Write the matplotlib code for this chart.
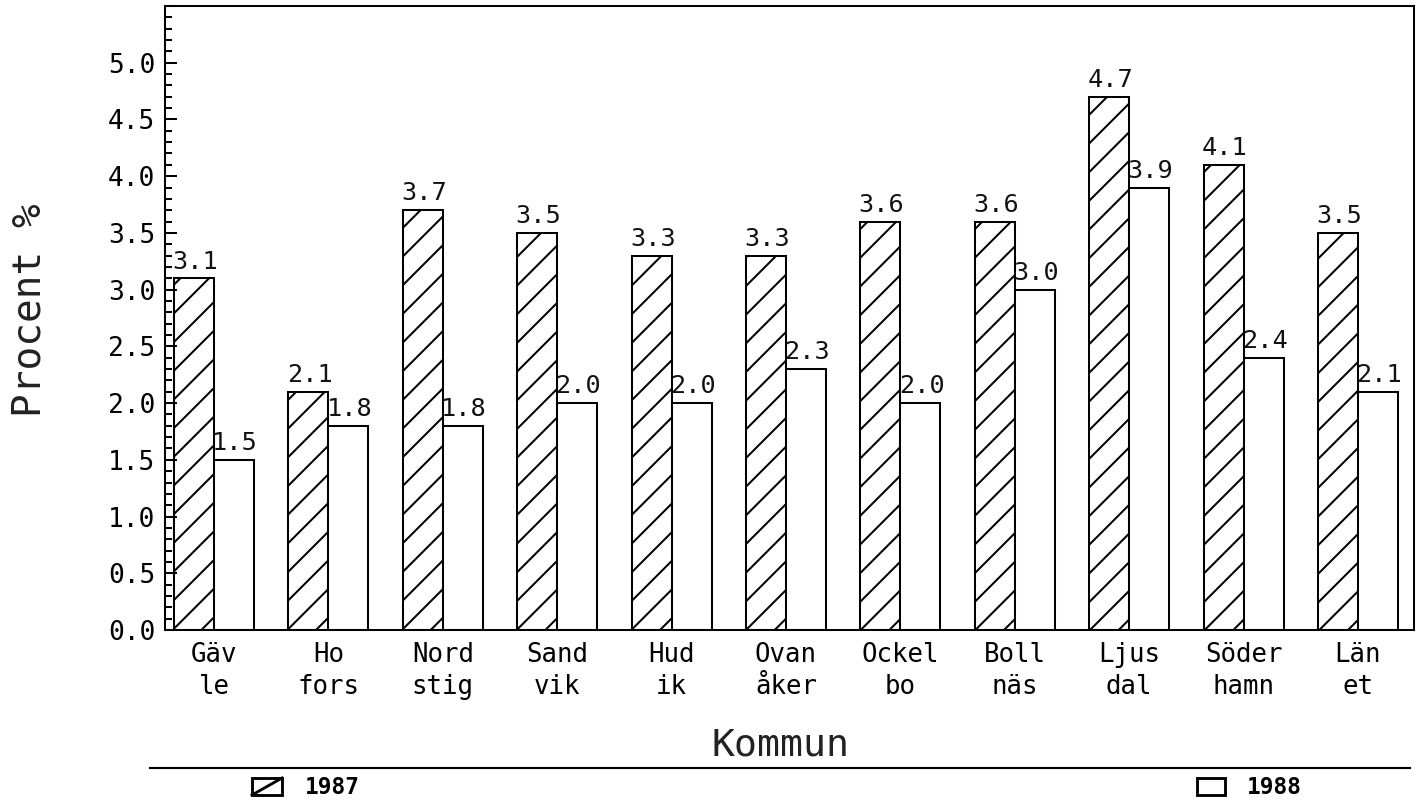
import matplotlib
matplotlib.use("Agg")
import matplotlib.pyplot as plt
from matplotlib.ticker import MultipleLocator, FormatStrFormatter
from matplotlib.patches import Rectangle
from matplotlib.lines import Line2D
import numpy as np

# ---- data ----
kommuner = ["Gäv\nle", "Ho\nfors", "Nord\nstig", "Sand\nvik", "Hud\nik", "Ovan\nåker",
            "Ockel\nbo", "Boll\nnäs", "Ljus\ndal", "Söder\nhamn", "Län\net"]
values_1987 = [3.1, 2.1, 3.7, 3.5, 3.3, 3.3, 3.6, 3.6, 4.7, 4.1, 3.5]
values_1988 = [1.5, 1.8, 1.8, 2.0, 2.0, 2.3, 2.0, 3.0, 3.9, 2.4, 2.1]
series_labels = ["1987", "1988"]
y_ticks = [0.0, 0.5, 1.0, 1.5, 2.0, 2.5, 3.0, 3.5, 4.0, 4.5, 5.0]
y_label = "Procent %"
x_label = "Kommun"

DPI = 172
W, H = 1416, 805
plt.rcParams['font.family'] = ['DejaVu Sans Mono', 'DejaVu Sans']
plt.rcParams['hatch.linewidth'] = 0.85

fig = plt.figure(figsize=(W / DPI, H / DPI), dpi=DPI)
ax = fig.add_axes([165 / W, 1 - 630 / H, (1414 - 165) / W, (630 - 6) / H])

x = np.arange(len(kommuner))
bw = 0.35
b1 = ax.bar(x - bw / 2, values_1987, width=bw, facecolor='white', edgecolor='black',
            linewidth=0.85, hatch='//')
b2 = ax.bar(x + bw / 2, values_1988, width=bw, facecolor='white', edgecolor='black',
            linewidth=0.85)

for bars, vals in ((b1, values_1987), (b2, values_1988)):
    for r, v in zip(bars, vals):
        ax.annotate(f"{v:.1f}", (r.get_x() + r.get_width() / 2, v),
                    xytext=(0.5, 2), textcoords='offset points',
                    ha='center', va='bottom', fontsize=10.6, color='#111111')

ax.set_xticks(x)
ax.set_xticklabels(kommuner, fontsize=10.8, linespacing=1.3)
ax.tick_params(axis='x', length=0, pad=5)
ax.set_yticks(y_ticks)
ax.yaxis.set_minor_locator(MultipleLocator(0.1))
ax.yaxis.set_major_formatter(FormatStrFormatter('%.1f'))
ax.set_xlim(-0.428, 10.49)
ax.set_ylim(0, 5.5)
ax.tick_params(axis='y', which='major', direction='in', length=5.2, width=0.85,
               labelsize=11, pad=4)
ax.tick_params(axis='y', which='minor', direction='in', length=3, width=0.85)
for s in ax.spines.values():
    s.set_linewidth(0.85)

fig.text(30 / W, 1 - 310 / H, y_label, rotation=90, ha='center', va='center',
         fontsize=16.5, color='#222222')
fig.text(781 / W, 1 - 745 / H, x_label, ha='center', va='center',
         fontsize=16, color='#222222')

# separator line and legend
fig.add_artist(Line2D([150 / W, 1410 / W], [1 - 768 / H, 1 - 768 / H],
                      color='black', linewidth=0.9))
fig.add_artist(Rectangle((252 / W, 1 - 795 / H), 30 / W, 17 / H, facecolor='white',
                         edgecolor='black', linewidth=1.2, transform=fig.transFigure))
fig.add_artist(Line2D([252 / W, 282 / W], [1 - 795 / H, 1 - 778 / H],
                      color='black', linewidth=1.2))
fig.text(305 / W, 1 - 787 / H, series_labels[0], ha='left', va='center',
         fontsize=9.5, fontweight='bold')
fig.add_artist(Rectangle((1197 / W, 1 - 795 / H), 28 / W, 17 / H, facecolor='white',
                         edgecolor='black', linewidth=1.2, transform=fig.transFigure))
fig.text(1247 / W, 1 - 787 / H, series_labels[1], ha='left', va='center',
         fontsize=9.5, fontweight='bold')

fig.savefig("out.png", dpi=DPI, facecolor='white')
